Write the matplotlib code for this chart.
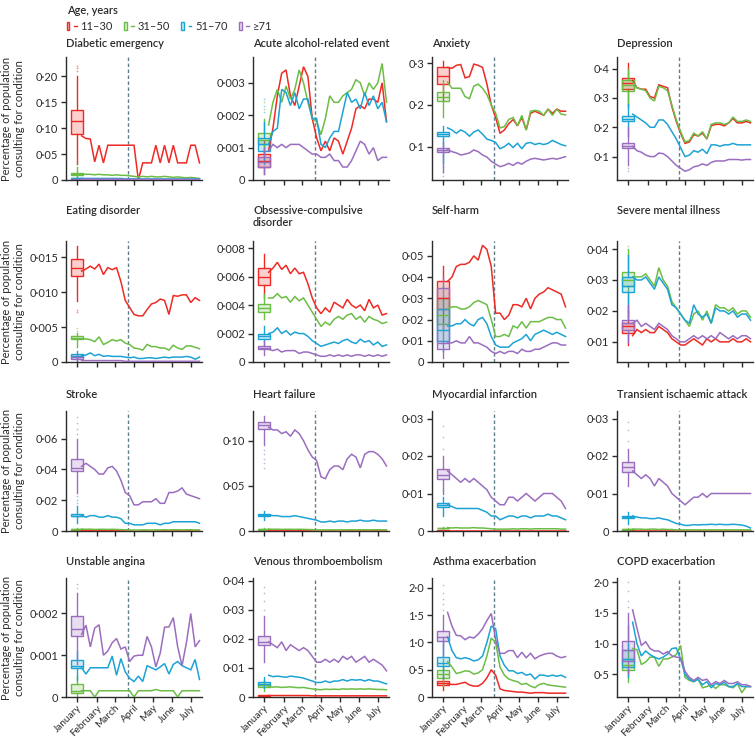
import matplotlib
matplotlib.use('Agg')
import matplotlib.pyplot as plt
from matplotlib.patches import Rectangle
from matplotlib.lines import Line2D
from matplotlib.legend_handler import HandlerTuple
from matplotlib.ticker import FuncFormatter
from matplotlib.colors import to_rgba

plt.rcParams['font.family'] = ['Lato', 'DejaVu Sans']

# ---------------- data ----------------
ages = ['11–30', '31–50', '51–70', '≥71']
colors = ['#ee2a24', '#6cbd45', '#1ca3d5', '#9a6dbf']
months = ['January', 'February', 'March', 'April', 'May', 'June', 'July']
month_days = [0, 31, 60, 91, 121, 152, 182]
week_days = [7, 14, 21, 28, 35, 42, 49, 56, 63, 70, 77, 84, 91, 98,
             105, 112, 119, 126, 133, 140, 147, 154, 161, 168, 175, 182, 189, 196]
lockdown_day = 82

titles = ['Diabetic emergency', 'Acute alcohol-related event', 'Anxiety', 'Depression',
          'Eating disorder', 'Obsessive-compulsive\ndisorder', 'Self-harm', 'Severe mental illness',
          'Stroke', 'Heart failure', 'Myocardial infarction', 'Transient ischaemic attack',
          'Unstable angina', 'Venous thromboembolism', 'Asthma exacerbation', 'COPD exacerbation']

# weekly series, order: 11-30, 31-50, 51-70, >=71
diabetic_lines = [
    [0.085, 0.080, 0.079, 0.035, 0.067, 0.033, 0.067, 0.067, 0.067, 0.067, 0.067, 0.067, 0.067, 0.0,
     0.033, 0.033, 0.033, 0.067, 0.033, 0.067, 0.033, 0.067, 0.033, 0.033, 0.033, 0.067, 0.067, 0.033],
    [0.012, 0.011, 0.011, 0.010, 0.011, 0.010, 0.010, 0.009, 0.010, 0.009, 0.009, 0.008, 0.007, 0.006,
     0.007, 0.006, 0.007, 0.006, 0.006, 0.007, 0.006, 0.005, 0.006, 0.005, 0.004, 0.005, 0.004, 0.003],
    [0.003, 0.003, 0.003, 0.003, 0.003, 0.003, 0.003, 0.003, 0.003, 0.003, 0.002, 0.002, 0.002, 0.002,
     0.002, 0.002, 0.002, 0.002, 0.002, 0.002, 0.002, 0.002, 0.002, 0.002, 0.002, 0.002, 0.002, 0.002],
    [0.0015, 0.0015, 0.0015, 0.0015, 0.0015, 0.0015, 0.0015, 0.0015, 0.0015, 0.0015, 0.001, 0.001, 0.001, 0.001,
     0.001, 0.001, 0.001, 0.001, 0.001, 0.001, 0.001, 0.001, 0.001, 0.001, 0.001, 0.001, 0.001, 0.001]]
alcohol_lines = [
    [0.0009, 0.0016, 0.0026, 0.0033, 0.0034, 0.0026, 0.0023, 0.0029, 0.0035, 0.0032, 0.0019, 0.0013, 0.0009, 0.0012,
     0.0009, 0.0013, 0.0012, 0.0008, 0.0012, 0.0016, 0.0022, 0.0023, 0.0022, 0.0025, 0.0025, 0.0024, 0.0030, 0.0018],
    [0.0017, 0.0024, 0.0028, 0.0024, 0.0029, 0.0025, 0.0028, 0.0034, 0.0030, 0.0024, 0.0019, 0.0018, 0.0014, 0.0019,
     0.0026, 0.0024, 0.0024, 0.0026, 0.0027, 0.0028, 0.0031, 0.0030, 0.0026, 0.0030, 0.0028, 0.0030, 0.0036, 0.0024],
    [0.0011, 0.0015, 0.0016, 0.0028, 0.0027, 0.0023, 0.0027, 0.0022, 0.0025, 0.0025, 0.0019, 0.0019, 0.0011, 0.0010,
     0.0013, 0.0015, 0.0015, 0.0021, 0.0027, 0.0024, 0.0025, 0.0022, 0.0027, 0.0023, 0.0026, 0.0022, 0.0024, 0.0018],
    [0.0009, 0.0011, 0.0010, 0.0011, 0.0010, 0.0011, 0.0011, 0.0011, 0.0010, 0.0009, 0.0008, 0.0008, 0.0007, 0.0007,
     0.0008, 0.0006, 0.0006, 0.0004, 0.0004, 0.0006, 0.0009, 0.0012, 0.0011, 0.0008, 0.0010, 0.0006, 0.0007, 0.0007]]
anxiety_lines = [
    [0.290, 0.288, 0.295, 0.297, 0.265, 0.268, 0.298, 0.295, 0.290, 0.250, 0.200, 0.170, 0.132, 0.140,
     0.155, 0.165, 0.150, 0.170, 0.140, 0.180, 0.185, 0.180, 0.175, 0.190, 0.180, 0.190, 0.185, 0.185],
    [0.255, 0.240, 0.240, 0.240, 0.220, 0.215, 0.245, 0.250, 0.240, 0.225, 0.200, 0.180, 0.145, 0.148,
     0.165, 0.170, 0.150, 0.175, 0.140, 0.185, 0.187, 0.185, 0.175, 0.190, 0.175, 0.190, 0.178, 0.176],
    [0.145, 0.140, 0.132, 0.140, 0.135, 0.125, 0.135, 0.140, 0.130, 0.118, 0.115, 0.110, 0.095, 0.100,
     0.108, 0.098, 0.108, 0.095, 0.108, 0.110, 0.105, 0.108, 0.105, 0.108, 0.115, 0.110, 0.105, 0.102],
    [0.092, 0.088, 0.085, 0.080, 0.082, 0.085, 0.092, 0.088, 0.080, 0.075, 0.065, 0.058, 0.052, 0.055,
     0.060, 0.055, 0.062, 0.058, 0.065, 0.070, 0.072, 0.070, 0.068, 0.070, 0.072, 0.070, 0.073, 0.076]]
depression_lines = [
    [0.360, 0.335, 0.330, 0.330, 0.305, 0.300, 0.345, 0.340, 0.335, 0.270, 0.220, 0.180, 0.145, 0.150,
     0.175, 0.170, 0.180, 0.160, 0.205, 0.210, 0.210, 0.205, 0.215, 0.230, 0.215, 0.215, 0.220, 0.215],
    [0.355, 0.335, 0.330, 0.325, 0.300, 0.290, 0.340, 0.335, 0.325, 0.275, 0.225, 0.185, 0.150, 0.155,
     0.180, 0.170, 0.185, 0.160, 0.210, 0.215, 0.215, 0.210, 0.215, 0.235, 0.220, 0.220, 0.225, 0.220],
    [0.245, 0.235, 0.225, 0.215, 0.200, 0.200, 0.225, 0.225, 0.210, 0.185, 0.160, 0.130, 0.100, 0.105,
     0.120, 0.115, 0.125, 0.110, 0.140, 0.140, 0.135, 0.140, 0.140, 0.145, 0.140, 0.140, 0.140, 0.140],
    [0.135, 0.120, 0.115, 0.105, 0.100, 0.100, 0.112, 0.110, 0.100, 0.085, 0.070, 0.060, 0.050, 0.055,
     0.065, 0.068, 0.075, 0.070, 0.080, 0.085, 0.085, 0.085, 0.090, 0.090, 0.090, 0.088, 0.090, 0.090]]
eating_lines = [
    [0.0130, 0.0133, 0.0137, 0.0133, 0.0140, 0.0125, 0.0135, 0.0132, 0.0135, 0.0115, 0.0088, 0.0078, 0.0068, 0.0066,
     0.0066, 0.0075, 0.0083, 0.0085, 0.0090, 0.0088, 0.0068, 0.0095, 0.0094, 0.0096, 0.0096, 0.0085, 0.0092, 0.0088],
    [0.0033, 0.0033, 0.0032, 0.0029, 0.0036, 0.0025, 0.0028, 0.0032, 0.0030, 0.0032, 0.0027, 0.0025, 0.0020, 0.0019,
     0.0017, 0.0025, 0.0022, 0.0022, 0.0020, 0.0020, 0.0017, 0.0024, 0.0020, 0.0018, 0.0023, 0.0023, 0.0021, 0.0019],
    [0.0009, 0.0010, 0.0013, 0.0009, 0.0011, 0.0008, 0.0009, 0.0008, 0.0008, 0.0008, 0.0007, 0.0006, 0.0007, 0.0005,
     0.0005, 0.0006, 0.0006, 0.0005, 0.0006, 0.0007, 0.0006, 0.0007, 0.0007, 0.0007, 0.0008, 0.0007, 0.0004, 0.0007],
    [0.0002, 0.0002, 0.0002, 0.0002, 0.0002, 0.0002, 0.0002, 0.0002, 0.0002, 0.0002, 0.0001, 0.0001, 0.0001, 0.0001,
     0.0001, 0.0001, 0.0001, 0.0001, 0.0001, 0.0001, 0.0001, 0.0001, 0.0001, 0.0001, 0.0001, 0.0001, 0.0001, 0.0001]]
ocd_lines = [
    [0.0063, 0.0066, 0.0070, 0.0065, 0.0068, 0.0062, 0.0066, 0.0062, 0.0063, 0.0055, 0.0045, 0.0038, 0.0034, 0.0038,
     0.0035, 0.0042, 0.0040, 0.0038, 0.0044, 0.0040, 0.0038, 0.0040, 0.0036, 0.0044, 0.0038, 0.0040, 0.0033, 0.0034],
    [0.0045, 0.0045, 0.0048, 0.0045, 0.0046, 0.0042, 0.0046, 0.0043, 0.0045, 0.0040, 0.0035, 0.0030, 0.0025, 0.0028,
     0.0026, 0.0030, 0.0032, 0.0030, 0.0033, 0.0034, 0.0030, 0.0032, 0.0028, 0.0032, 0.0030, 0.0029, 0.0027, 0.0028],
    [0.0020, 0.0021, 0.0024, 0.0020, 0.0022, 0.0019, 0.0021, 0.0020, 0.0020, 0.0018, 0.0015, 0.0013, 0.0011, 0.0012,
     0.0013, 0.0014, 0.0013, 0.0015, 0.0016, 0.0014, 0.0013, 0.0016, 0.0014, 0.0015, 0.0012, 0.0014, 0.0011, 0.0012],
    [0.0009, 0.0008, 0.0009, 0.0007, 0.0008, 0.0008, 0.0008, 0.0006, 0.0007, 0.0007, 0.0006, 0.0005, 0.0004, 0.0004,
     0.0005, 0.0004, 0.0005, 0.0004, 0.0005, 0.0004, 0.0005, 0.0005, 0.0004, 0.0005, 0.0004, 0.0005, 0.0004, 0.0005]]
selfharm_lines = [
    [0.038, 0.040, 0.045, 0.046, 0.046, 0.047, 0.050, 0.048, 0.055, 0.053, 0.045, 0.023, 0.023, 0.020,
     0.022, 0.027, 0.027, 0.026, 0.030, 0.025, 0.030, 0.032, 0.033, 0.035, 0.034, 0.033, 0.032, 0.026],
    [0.025, 0.026, 0.026, 0.025, 0.025, 0.026, 0.028, 0.029, 0.028, 0.027, 0.020, 0.012, 0.012, 0.013,
     0.012, 0.017, 0.016, 0.019, 0.016, 0.019, 0.019, 0.019, 0.020, 0.021, 0.021, 0.020, 0.020, 0.016],
    [0.017, 0.017, 0.018, 0.018, 0.020, 0.018, 0.017, 0.020, 0.021, 0.018, 0.012, 0.008, 0.007, 0.007,
     0.007, 0.009, 0.010, 0.011, 0.013, 0.010, 0.013, 0.014, 0.015, 0.014, 0.013, 0.014, 0.013, 0.012],
    [0.009, 0.009, 0.010, 0.009, 0.009, 0.012, 0.009, 0.009, 0.008, 0.007, 0.005, 0.004, 0.005, 0.004,
     0.005, 0.005, 0.004, 0.006, 0.005, 0.005, 0.006, 0.006, 0.007, 0.008, 0.009, 0.009, 0.008, 0.008]]
smi_lines = [
    [0.012, 0.014, 0.013, 0.014, 0.013, 0.013, 0.015, 0.014, 0.013, 0.011, 0.010, 0.009, 0.009, 0.010,
     0.011, 0.010, 0.009, 0.011, 0.010, 0.011, 0.010, 0.010, 0.010, 0.011, 0.010, 0.010, 0.011, 0.010],
    [0.031, 0.031, 0.031, 0.032, 0.030, 0.028, 0.034, 0.030, 0.028, 0.023, 0.021, 0.019, 0.017, 0.015,
     0.019, 0.020, 0.017, 0.020, 0.016, 0.022, 0.021, 0.021, 0.020, 0.021, 0.019, 0.020, 0.020, 0.018],
    [0.031, 0.030, 0.030, 0.031, 0.029, 0.027, 0.031, 0.029, 0.027, 0.022, 0.021, 0.019, 0.017, 0.016,
     0.022, 0.019, 0.018, 0.019, 0.016, 0.021, 0.020, 0.020, 0.019, 0.020, 0.018, 0.019, 0.019, 0.017],
    [0.016, 0.017, 0.015, 0.016, 0.015, 0.014, 0.016, 0.015, 0.014, 0.012, 0.011, 0.010, 0.010, 0.011,
     0.012, 0.011, 0.012, 0.011, 0.012, 0.011, 0.013, 0.012, 0.011, 0.012, 0.011, 0.012, 0.012, 0.011]]
stroke_lines = [
    [0.0002, 0.0002, 0.0002, 0.0002, 0.0002, 0.0002, 0.0002, 0.0002, 0.0002, 0.0002, 0.0001, 0.0001, 0.0001, 0.0001,
     0.0001, 0.0001, 0.0001, 0.0001, 0.0001, 0.0001, 0.0001, 0.0001, 0.0001, 0.0001, 0.0001, 0.0001, 0.0001, 0.0001],
    [0.0012, 0.0011, 0.0012, 0.0010, 0.0011, 0.0011, 0.0010, 0.0011, 0.0010, 0.0009, 0.0008, 0.0007, 0.0006, 0.0006,
     0.0007, 0.0007, 0.0006, 0.0007, 0.0007, 0.0008, 0.0007, 0.0008, 0.0008, 0.0007, 0.0008, 0.0008, 0.0007, 0.0007],
    [0.010, 0.009, 0.010, 0.010, 0.009, 0.009, 0.010, 0.009, 0.009, 0.008, 0.005, 0.005, 0.004, 0.004,
     0.004, 0.005, 0.005, 0.005, 0.004, 0.005, 0.005, 0.006, 0.006, 0.006, 0.006, 0.006, 0.006, 0.005],
    [0.042, 0.044, 0.042, 0.040, 0.037, 0.037, 0.041, 0.042, 0.039, 0.033, 0.025, 0.023, 0.017, 0.017,
     0.019, 0.019, 0.019, 0.021, 0.018, 0.018, 0.025, 0.025, 0.026, 0.028, 0.024, 0.023, 0.022, 0.021]]
heart_lines = [
    [0.0002, 0.0002, 0.0002, 0.0002, 0.0002, 0.0002, 0.0002, 0.0002, 0.0002, 0.0002, 0.0001, 0.0001, 0.0001, 0.0001,
     0.0001, 0.0001, 0.0001, 0.0001, 0.0001, 0.0001, 0.0001, 0.0001, 0.0001, 0.0001, 0.0001, 0.0001, 0.0001, 0.0001],
    [0.0020, 0.0019, 0.0020, 0.0018, 0.0019, 0.0019, 0.0018, 0.0019, 0.0018, 0.0016, 0.0015, 0.0013, 0.0012, 0.0012,
     0.0013, 0.0013, 0.0012, 0.0013, 0.0013, 0.0014, 0.0013, 0.0014, 0.0014, 0.0013, 0.0014, 0.0014, 0.0013, 0.0013],
    [0.018, 0.017, 0.017, 0.016, 0.016, 0.016, 0.017, 0.016, 0.015, 0.014, 0.013, 0.012, 0.010, 0.010,
     0.011, 0.010, 0.011, 0.011, 0.010, 0.011, 0.011, 0.012, 0.011, 0.011, 0.012, 0.011, 0.011, 0.011],
    [0.115, 0.112, 0.112, 0.108, 0.110, 0.105, 0.112, 0.108, 0.100, 0.090, 0.082, 0.078, 0.060, 0.058,
     0.068, 0.072, 0.072, 0.068, 0.080, 0.085, 0.082, 0.070, 0.085, 0.088, 0.088, 0.085, 0.080, 0.072]]
mi_lines = [
    [0.0001, 0.0001, 0.0001, 0.0001, 0.0001, 0.0001, 0.0001, 0.0001, 0.0001, 0.0001, 0.0001, 0.0001, 0.0001, 0.0001,
     0.0001, 0.0001, 0.0001, 0.0001, 0.0001, 0.0001, 0.0001, 0.0001, 0.0001, 0.0001, 0.0001, 0.0001, 0.0001, 0.0001],
    [0.0009, 0.0008, 0.0009, 0.0008, 0.0008, 0.0008, 0.0009, 0.0008, 0.0008, 0.0007, 0.0006, 0.0005, 0.0005, 0.0005,
     0.0005, 0.0006, 0.0005, 0.0006, 0.0006, 0.0005, 0.0006, 0.0006, 0.0006, 0.0006, 0.0006, 0.0006, 0.0005, 0.0005],
    [0.0070, 0.0065, 0.0060, 0.0060, 0.0060, 0.0060, 0.0060, 0.0060, 0.0055, 0.0050, 0.0040, 0.0040, 0.0030, 0.0035,
     0.0040, 0.0040, 0.0035, 0.0040, 0.0040, 0.0035, 0.0040, 0.0040, 0.0040, 0.0045, 0.0040, 0.0040, 0.0035, 0.0030],
    [0.016, 0.015, 0.014, 0.013, 0.014, 0.013, 0.014, 0.013, 0.012, 0.011, 0.009, 0.008, 0.007, 0.007,
     0.009, 0.009, 0.008, 0.009, 0.010, 0.009, 0.008, 0.009, 0.010, 0.010, 0.010, 0.009, 0.008, 0.006]]
tia_lines = [
    [0.0001, 0.0001, 0.0001, 0.0001, 0.0001, 0.0001, 0.0001, 0.0001, 0.0001, 0.0001, 0.0001, 0.0001, 0.0001, 0.0001,
     0.0001, 0.0001, 0.0001, 0.0001, 0.0001, 0.0001, 0.0001, 0.0001, 0.0001, 0.0001, 0.0001, 0.0001, 0.0001, 0.0001],
    [0.0005, 0.0005, 0.0005, 0.0004, 0.0005, 0.0005, 0.0004, 0.0005, 0.0004, 0.0004, 0.0003, 0.0003, 0.0003, 0.0003,
     0.0003, 0.0003, 0.0003, 0.0003, 0.0003, 0.0003, 0.0003, 0.0003, 0.0003, 0.0003, 0.0003, 0.0003, 0.0003, 0.0003],
    [0.0040, 0.0037, 0.0035, 0.0035, 0.0033, 0.0033, 0.0035, 0.0032, 0.0030, 0.0025, 0.0020, 0.0018, 0.0015, 0.0015,
     0.0017, 0.0016, 0.0017, 0.0017, 0.0018, 0.0017, 0.0018, 0.0017, 0.0017, 0.0018, 0.0017, 0.0016, 0.0013, 0.0008],
    [0.016, 0.015, 0.014, 0.015, 0.014, 0.012, 0.014, 0.013, 0.012, 0.010, 0.009, 0.008, 0.007, 0.008,
     0.009, 0.009, 0.010, 0.009, 0.010, 0.010, 0.010, 0.010, 0.010, 0.010, 0.010, 0.010, 0.010, 0.010]]
angina_lines = [
    None,
    [0.00015, 0.00015, 0.00015, 0.0, 0.00015, 0.00015, 0.00015, 0.00015, 0.00015, 0.00015, 0.00015, 0.00015, 0.0, 0.00015,
     0.00015, 0.00015, 0.00015, 0.00018, 0.00015, 0.00015, 0.00015, 0.00015, 0.0, 0.00015, 0.00015, 0.00015, 0.00015, 0.00015],
    [0.0007, 0.00055, 0.0007, 0.0007, 0.0007, 0.0007, 0.0007, 0.00098, 0.00052, 0.00092, 0.0006, 0.00045, 0.00037, 0.0005,
     0.00037, 0.00075, 0.0007, 0.00065, 0.00072, 0.0008, 0.00055, 0.00078, 0.00085, 0.00075, 0.0007, 0.00065, 0.0009, 0.00042],
    [0.0015, 0.00172, 0.0012, 0.00165, 0.00173, 0.0010, 0.0011, 0.0013, 0.0014, 0.00115, 0.0012, 0.00085, 0.00098, 0.0010,
     0.0010, 0.00145, 0.0012, 0.00072, 0.00105, 0.00167, 0.00168, 0.0019, 0.0012, 0.00075, 0.0013, 0.0020, 0.0012, 0.00135]]
vte_lines = [
    [0.0005, 0.0005, 0.0005, 0.0005, 0.0005, 0.0005, 0.0005, 0.0005, 0.0005, 0.0005, 0.0004, 0.0004, 0.0004, 0.0004,
     0.0004, 0.0004, 0.0004, 0.0004, 0.0004, 0.0004, 0.0004, 0.0004, 0.0004, 0.0004, 0.0004, 0.0004, 0.0004, 0.0004],
    [0.0035, 0.0034, 0.0035, 0.0033, 0.0034, 0.0035, 0.0033, 0.0032, 0.0033, 0.0030, 0.0028, 0.0026, 0.0025, 0.0027,
     0.0026, 0.0027, 0.0026, 0.0028, 0.0027, 0.0028, 0.0027, 0.0028, 0.0027, 0.0028, 0.0027, 0.0026, 0.0026, 0.0025],
    [0.0075, 0.0070, 0.0072, 0.0070, 0.0068, 0.0072, 0.0070, 0.0068, 0.0065, 0.0060, 0.0055, 0.0050, 0.0050, 0.0055,
     0.0050, 0.0055, 0.0055, 0.0060, 0.0055, 0.0060, 0.0058, 0.0060, 0.0055, 0.0060, 0.0055, 0.0055, 0.0050, 0.0045],
    [0.019, 0.018, 0.017, 0.019, 0.016, 0.018, 0.017, 0.016, 0.017, 0.016, 0.014, 0.012, 0.012, 0.013,
     0.012, 0.013, 0.012, 0.014, 0.013, 0.014, 0.012, 0.013, 0.014, 0.012, 0.013, 0.012, 0.011, 0.009]]
asthma_lines = [
    [0.24, 0.23, 0.23, 0.25, 0.27, 0.22, 0.20, 0.20, 0.25, 0.35, 0.50, 0.40, 0.15, 0.12,
     0.11, 0.10, 0.09, 0.09, 0.08, 0.07, 0.08, 0.08, 0.08, 0.07, 0.07, 0.07, 0.07, 0.07],
    [0.65, 0.55, 0.43, 0.45, 0.48, 0.47, 0.42, 0.44, 0.50, 0.75, 1.08, 1.00, 0.55, 0.40,
     0.33, 0.30, 0.28, 0.23, 0.25, 0.20, 0.17, 0.23, 0.25, 0.22, 0.21, 0.20, 0.19, 0.18],
    [1.10, 0.85, 0.72, 0.70, 0.72, 0.70, 0.66, 0.68, 0.75, 1.00, 1.30, 1.25, 0.75, 0.58,
     0.48, 0.48, 0.43, 0.45, 0.40, 0.42, 0.33, 0.40, 0.40, 0.38, 0.40, 0.38, 0.40, 0.36],
    [1.55, 1.30, 1.13, 1.12, 1.05, 1.10, 1.08, 1.15, 1.25, 1.40, 1.53, 1.05, 0.80, 0.80,
     0.85, 0.85, 0.72, 0.82, 0.72, 0.80, 0.70, 0.75, 0.78, 0.80, 0.80, 0.75, 0.72, 0.74]]
copd_lines = [
    None,
    [0.92, 0.90, 0.66, 0.70, 0.78, 0.78, 0.63, 0.75, 0.75, 0.78, 0.82, 0.97, 0.45, 0.40,
     0.38, 0.42, 0.28, 0.30, 0.33, 0.27, 0.33, 0.33, 0.30, 0.28, 0.35, 0.20, 0.30, 0.30],
    [1.35, 1.00, 0.80, 0.88, 0.82, 0.78, 0.75, 0.78, 0.83, 0.92, 0.93, 0.75, 0.50, 0.42,
     0.38, 0.42, 0.33, 0.38, 0.28, 0.35, 0.33, 0.37, 0.30, 0.30, 0.35, 0.30, 0.30, 0.30],
    [1.55, 1.25, 0.97, 1.03, 0.92, 0.88, 0.88, 0.83, 0.87, 0.80, 0.78, 0.77, 0.55, 0.45,
     0.40, 0.45, 0.40, 0.42, 0.33, 0.38, 0.35, 0.40, 0.35, 0.35, 0.38, 0.33, 0.33, 0.30]]

# box statistics for previous years (whislo, q1, median, q3, whishi), order 11-30 .. >=71
diabetic_boxes = [(0.03, 0.088, 0.113, 0.135, 0.20), (0.004, 0.009, 0.011, 0.013, 0.025),
                  (0.001, 0.002, 0.003, 0.004, 0.006), (0.0, 0.001, 0.0015, 0.002, 0.004)]
alcohol_boxes = [(0.0002, 0.0004, 0.0006, 0.0008, 0.0012), (0.0006, 0.0011, 0.00125, 0.00145, 0.0019),
                 (0.0005, 0.0009, 0.0011, 0.0013, 0.0018), (0.0002, 0.0004, 0.00055, 0.0007, 0.001)]
anxiety_boxes = [(0.21, 0.25, 0.27, 0.29, 0.305), (0.17, 0.21, 0.22, 0.23, 0.26),
                 (0.06, 0.125, 0.13, 0.135, 0.15), (0.04, 0.088, 0.092, 0.096, 0.11)]
depression_boxes = [(0.27, 0.33, 0.35, 0.37, 0.42), (0.28, 0.325, 0.345, 0.36, 0.40),
                    (0.17, 0.22, 0.23, 0.24, 0.28), (0.07, 0.13, 0.135, 0.145, 0.20)]
eating_boxes = [(0.0087, 0.0123, 0.0135, 0.0147, 0.0166), (0.0022, 0.0033, 0.0035, 0.0037, 0.0042),
                (0.0002, 0.0007, 0.0009, 0.0011, 0.0016), (0.0001, 0.0005, 0.0007, 0.0009, 0.0012)]
ocd_boxes = [(0.0045, 0.0054, 0.0060, 0.0066, 0.0076), (0.0030, 0.0035, 0.0038, 0.0041, 0.0048),
             (0.0012, 0.0016, 0.0018, 0.0020, 0.0025), (0.0005, 0.0009, 0.0010, 0.0011, 0.0015)]
selfharm_boxes = [(0.015, 0.025, 0.030, 0.038, 0.045), (0.010, 0.018, 0.022, 0.030, 0.036),
                  (0.005, 0.010, 0.015, 0.025, 0.030), (0.002, 0.006, 0.009, 0.035, 0.040)]
smi_boxes = [(0.009, 0.013, 0.015, 0.016, 0.020), (0.020, 0.028, 0.030, 0.0325, 0.040),
             (0.018, 0.026, 0.028, 0.031, 0.038), (0.010, 0.014, 0.016, 0.017, 0.022)]
stroke_boxes = [(0.0, 0.0001, 0.0002, 0.0003, 0.0005), (0.0005, 0.0008, 0.001, 0.0012, 0.0018),
                (0.005, 0.0095, 0.010, 0.011, 0.016), (0.025, 0.039, 0.041, 0.047, 0.060)]
heart_boxes = [(0.0, 0.0, 0.0001, 0.0002, 0.0003), (0.001, 0.0015, 0.002, 0.0025, 0.003),
               (0.012, 0.017, 0.018, 0.019, 0.022), (0.095, 0.113, 0.117, 0.121, 0.128)]
mi_boxes = [(0.0, 0.0001, 0.0001, 0.0002, 0.0003), (0.0004, 0.0007, 0.0008, 0.0009, 0.0012),
            (0.004, 0.0065, 0.007, 0.0075, 0.009), (0.010, 0.014, 0.015, 0.0165, 0.020)]
tia_boxes = [(0.0, 0.0001, 0.0001, 0.0002, 0.0003), (0.0002, 0.0004, 0.0005, 0.0006, 0.0008),
             (0.002, 0.0034, 0.0037, 0.004, 0.005), (0.012, 0.0158, 0.017, 0.0183, 0.022)]
angina_boxes = [None, (0.0, 0.0001, 0.00015, 0.0003, 0.0005),
                (0.0004, 0.0007, 0.00075, 0.00088, 0.0011), (0.0008, 0.00145, 0.00162, 0.00193, 0.0025)]
vte_boxes = [(0.0002, 0.0004, 0.0005, 0.0006, 0.0008), (0.002, 0.0035, 0.004, 0.0045, 0.006),
             (0.003, 0.004, 0.0045, 0.005, 0.007), (0.012, 0.018, 0.019, 0.021, 0.028)]
asthma_boxes = [(0.12, 0.22, 0.25, 0.30, 0.38), (0.20, 0.35, 0.42, 0.50, 0.70),
                (0.35, 0.57, 0.63, 0.73, 1.10), (0.75, 1.03, 1.10, 1.20, 1.50)]
copd_boxes = [None, (0.38, 0.57, 0.65, 0.75, 1.00),
              (0.45, 0.62, 0.75, 0.90, 1.30), (0.50, 0.72, 0.90, 1.05, 1.50)]

# outlying weekly values of previous years
diabetic_fliers = [[0.21, 0.215, 0.22], [0.03, 0.035, 0.04], [], []]
alcohol_fliers = [[], [0.0022, 0.0024], [0.0021, 0.0023, 0.0025], []]
anxiety_fliers = [[], [], [0.04, 0.05], [0.03]]
depression_fliers = [[], [], [], [0.05, 0.06]]
eating_fliers = [[0.0072, 0.0075], [0.0045, 0.0048], [], []]
ocd_fliers = [[], [], [], []]
selfharm_fliers = [[], [], [], []]
smi_fliers = [[], [0.041], [], []]
stroke_fliers = [[], [], [0.018, 0.020, 0.023], [0.063, 0.066, 0.070, 0.074]]
heart_fliers = [[], [], [], [0.07, 0.075, 0.08, 0.085, 0.09]]
mi_fliers = [[], [], [0.011], [0.022, 0.025, 0.028]]
tia_fliers = [[], [], [], [0.024, 0.027, 0.029]]
angina_fliers = [[], [], [], [0.0026, 0.0027]]
vte_fliers = [[], [], [], [0.030, 0.033, 0.036, 0.038]]
asthma_fliers = [[], [], [], [1.6, 1.7, 1.8, 1.9, 2.05]]
copd_fliers = [[], [], [], [1.6, 1.7, 1.85, 2.0]]

# axis ranges and tick labels
y_limits = [(0, 0.237), (0, 0.0038), (0.02, 0.315), (0.02, 0.44),
            (0, 0.0173), (0, 0.0085), (0, 0.057), (0.0035, 0.0426),
            (0, 0.078), (0, 0.133), (0, 0.032), (0, 0.032),
            (0, 0.00285), (0, 0.041), (0, 2.18), (0.13, 2.07)]
y_ticks = [[0, 0.05, 0.10, 0.15, 0.20], [0, 0.001, 0.002, 0.003], [0.1, 0.2, 0.3], [0.1, 0.2, 0.3, 0.4],
           [0, 0.005, 0.010, 0.015], [0, 0.002, 0.004, 0.006, 0.008], [0, 0.01, 0.02, 0.03, 0.04, 0.05],
           [0.01, 0.02, 0.03, 0.04],
           [0, 0.02, 0.04, 0.06], [0, 0.05, 0.10], [0, 0.01, 0.02, 0.03], [0, 0.01, 0.02, 0.03],
           [0, 0.001, 0.002], [0, 0.01, 0.02, 0.03, 0.04], [0, 0.5, 1.0, 1.5, 2.0], [0.5, 1.0, 1.5, 2.0]]
y_decimals = [2, 3, 1, 1, 3, 3, 2, 2, 2, 2, 2, 2, 3, 2, 1, 1]

all_lines = [diabetic_lines, alcohol_lines, anxiety_lines, depression_lines,
             eating_lines, ocd_lines, selfharm_lines, smi_lines,
             stroke_lines, heart_lines, mi_lines, tia_lines,
             angina_lines, vte_lines, asthma_lines, copd_lines]
all_boxes = [diabetic_boxes, alcohol_boxes, anxiety_boxes, depression_boxes,
             eating_boxes, ocd_boxes, selfharm_boxes, smi_boxes,
             stroke_boxes, heart_boxes, mi_boxes, tia_boxes,
             angina_boxes, vte_boxes, asthma_boxes, copd_boxes]
all_fliers = [diabetic_fliers, alcohol_fliers, anxiety_fliers, depression_fliers,
              eating_fliers, ocd_fliers, selfharm_fliers, smi_fliers,
              stroke_fliers, heart_fliers, mi_fliers, tia_fliers,
              angina_fliers, vte_fliers, asthma_fliers, copd_fliers]

# ---------------- layout ----------------
W, H = 756, 738
fig = plt.figure(figsize=(W / 100, H / 100), dpi=100)
col_left = [66, 253, 432, 617]
ax_w = 136
row_top = [57, 241, 411, 578]
row_bot = [180, 362, 531, 697]
title_y = [38, 205, 389, 556]
ink = '#2b2b2b'
FS = 8

def make_fmt(dec):
    def f(v, p):
        if abs(v) < 1e-12:
            return '0'
        return f'{v:.{dec}f}'.replace('.', '·')
    return f

for idx in range(16):
    r, c = divmod(idx, 4)
    ax = fig.add_axes([col_left[c] / W, 1 - row_bot[r] / H, ax_w / W, (row_bot[r] - row_top[r]) / H])
    lines = all_lines[idx]
    boxes = all_boxes[idx]
    fliers = all_fliers[idx]
    for k in range(4):
        if boxes[k] is None:
            continue
        lo, q1, med, q3, hi = boxes[k]
        st = dict(whislo=lo, q1=q1, med=med, q3=q3, whishi=hi, fliers=fliers[k])
        col = colors[k]
        ax.bxp([st], positions=[0], widths=[20], patch_artist=True, showcaps=False, manage_ticks=False,
               boxprops=dict(facecolor=to_rgba(col, 0.22), edgecolor=col, linewidth=1.0),
               medianprops=dict(color=col, linewidth=1.0),
               whiskerprops=dict(color=col, linewidth=1.0),
               flierprops=dict(marker='.', markersize=2.5, markerfacecolor=to_rgba(col, 0.5),
                               markeredgecolor='none'))
    for k in range(4):
        if lines[k] is None:
            continue
        ax.plot(week_days, lines[k], color=colors[k], lw=1.1, solid_joinstyle='miter', zorder=3)
    ax.axvline(lockdown_day, color='#5e7f8a', lw=1.0, ls=(0, (2.5, 1.8)), zorder=2)
    ax.set_xlim(-18, 200)
    ax.set_ylim(*y_limits[idx])
    ax.set_yticks(y_ticks[idx])
    ax.yaxis.set_major_formatter(FuncFormatter(make_fmt(y_decimals[idx])))
    ax.set_xticks(month_days)
    if r == 3:
        ax.set_xticklabels(months, rotation=45, ha='right', rotation_mode='anchor', fontsize=7.2, color=ink)
    else:
        ax.set_xticklabels([])
    for s in ['top', 'right']:
        ax.spines[s].set_visible(False)
    for s in ['left', 'bottom']:
        ax.spines[s].set_color(ink)
        ax.spines[s].set_linewidth(1.0)
    ax.tick_params(axis='both', length=3.5, width=1.0, color=ink, labelcolor=ink, pad=2)
    ax.tick_params(axis='y', labelsize=FS)
    ax.tick_params(axis='x', pad=1)
    fig.text(col_left[c] / W, 1 - title_y[r] / H, titles[idx], ha='left', va='top',
             fontsize=FS, fontweight='semibold', color=ink, linespacing=1.1)
    if c == 0:
        fig.text(13 / W, 1 - (row_top[r] + row_bot[r]) / 2 / H,
                 'Percentage of population\nconsulting for condition',
                 rotation=90, ha='center', va='center', fontsize=FS, color=ink, linespacing=1.15)

handles = [(Rectangle((0, 0), 1, 1, facecolor=to_rgba(col, 0.22), edgecolor=col, lw=1.0),
            Line2D([], [], color=col, lw=1.0)) for col in colors]
leg = fig.legend(handles, ages, handler_map={tuple: HandlerTuple(ndivide=None)},
                 loc='upper left', bbox_to_anchor=(60 / W, 1 + 2 / H), ncol=4, frameon=False,
                 title='Age, years', alignment='left', fontsize=FS, title_fontsize=FS,
                 handlelength=0.9, handleheight=0.7, handletextpad=0.35, columnspacing=1.0,
                 borderaxespad=0.2)
for t in leg.get_texts():
    t.set_color(ink)
leg.get_title().set_color(ink)
leg.get_title().set_fontweight('semibold')

fig.savefig('out.png', dpi=100)
